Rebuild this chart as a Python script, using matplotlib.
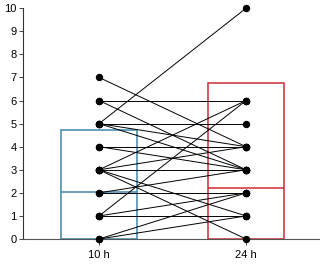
import matplotlib
matplotlib.use('Agg')
import matplotlib.pyplot as plt

plt.rcParams['font.family'] = ['Liberation Sans', 'DejaVu Sans']

# Paired scores, one pair per patient (10 h -> 24 h)
score_10h = [7, 6, 6, 5, 5, 5, 5, 4, 4, 3, 3, 3, 3, 3, 2, 2, 1, 1, 1, 0, 0]
score_24h = [4, 6, 3, 10, 5, 4, 3, 4, 3, 6, 4, 3, 1, 0, 2, 3, 6, 1, 2, 2, 1]

# Summary boxes drawn behind the points
time_labels = ['10 h', '24 h']
box_top = [4.72, 6.75]
box_mid = [2.03, 2.22]
box_colors = ['#3f86a8', '#d02a35']

fig = plt.figure(figsize=(3.2, 2.65), dpi=100)
ax = fig.add_axes([0.073, 0.098, 0.927, 0.871])

xpos = [1, 2]
for i in range(len(xpos)):
    ax.bar(xpos[i], box_top[i], width=0.515, bottom=0, fill=False,
           edgecolor=box_colors[i], linewidth=1.1, zorder=1)
    ax.hlines(box_mid[i], xpos[i] - 0.2575, xpos[i] + 0.2575,
              color=box_colors[i], linewidth=1.1, zorder=1)

for a, b in zip(score_10h, score_24h):
    ax.plot(xpos, [a, b], color='black', linewidth=0.7, zorder=2)
ax.plot([1] * len(score_10h), score_10h, 'o', color='black', markersize=4.3,
        zorder=3, clip_on=False)
ax.plot([2] * len(score_24h), score_24h, 'o', color='black', markersize=4.3,
        zorder=3, clip_on=False)

ax.set_xlim(0.485, 2.503)
ax.set_ylim(0, 10)
ax.set_yticks(range(0, 11))
ax.set_xticks(xpos)
ax.set_xticklabels(time_labels)

for side in ['top', 'right']:
    ax.spines[side].set_visible(False)
ax.spines['left'].set_color('#333333')
ax.spines['bottom'].set_color('#555555')
ax.spines['left'].set_linewidth(0.8)
ax.spines['bottom'].set_linewidth(0.8)
ax.tick_params(axis='both', labelsize=8, width=0.7, color='#444444')
ax.tick_params(axis='y', length=3, pad=2)
ax.tick_params(axis='x', length=4, pad=4)
ax.margins(0)

fig.savefig('out.png', dpi=100)
